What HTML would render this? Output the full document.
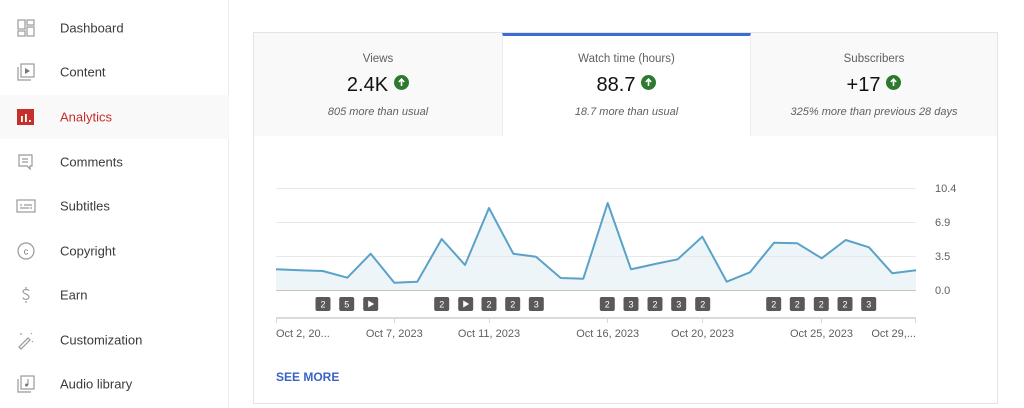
<!DOCTYPE html>
<html><head><meta charset="utf-8"><style>
*{margin:0;padding:0;box-sizing:border-box}
html,body{width:1024px;height:408px;overflow:hidden;background:#fff;font-family:"Liberation Sans",sans-serif}
.sb{position:absolute;left:0;top:0;width:229px;height:408px;border-right:1px solid #ebebeb;background:#fff}
.item{position:absolute;left:0;width:229px;height:44px;}
.item .t{position:absolute;left:60px;top:50%;transform:translateY(-50%);font-size:13px;color:#3a3a3a;white-space:nowrap}
.item svg{position:absolute;left:16px;top:50%;transform:translateY(-50%)}
.act{background:#f9f9f9}
.act .t{color:#c4302b}
.card{position:absolute;left:253px;top:32px;width:745px;height:372px;border:1px solid #e4e4e4;background:#fff}
.tab{position:absolute;top:0;height:103px;background:#f9f9f9;text-align:center;color:#606060}
.tab.on{background:#fff;border-top:3px solid #3b6ed2}
.tab .h{position:absolute;left:0;right:0;top:20px;font-size:11.5px}
.tab .v{position:absolute;left:0;right:0;top:41px;font-size:20px;color:#111}
.tab .v i{display:inline-block;width:15px;height:15px;border-radius:50%;background:#2d7a2f;vertical-align:1px;margin-left:6px;position:relative}
.tab .s{position:absolute;left:0;right:0;top:73px;font-size:11px;font-style:italic}
.see{position:absolute;left:276px;top:370px;font-size:12px;font-weight:bold;color:#3a63c6}
</style></head><body>
<div class="sb">
 <div class="item" style="top:6px"><svg width="20" height="20" viewBox="0 0 20 20" fill="none" stroke="#999" stroke-width="1.2"><rect x="2" y="2" width="7" height="9"/><rect x="11" y="2" width="7" height="5"/><rect x="2" y="13" width="7" height="5"/><rect x="11" y="9" width="7" height="9"/></svg><span class="t">Dashboard</span></div>
 <div class="item" style="top:50px"><svg width="20" height="20" viewBox="0 0 20 20" fill="none" stroke="#999" stroke-width="1.2"><rect x="5" y="2" width="13" height="13"/><path d="M2 5v13h13"/><path d="M9 6l5 3-5 3z" fill="#777" stroke="none"/></svg><span class="t">Content</span></div>
 <div class="item act" style="top:95px"><svg width="20" height="20" viewBox="0 0 20 20"><rect x="1" y="2" width="17" height="16" fill="#c4302b"/><rect x="5" y="9" width="1.8" height="6" fill="#fff"/><rect x="9" y="7" width="1.8" height="8" fill="#fff"/><rect x="13" y="13" width="1.8" height="2" fill="#fff"/></svg><span class="t">Analytics</span></div>
 <div class="item" style="top:140px"><svg width="20" height="20" viewBox="0 0 20 20" fill="none" stroke="#999" stroke-width="1.2"><path d="M3 3h13v11h-2v3l-3-3H3z"/><path d="M6 7h6M6 10h6"/></svg><span class="t">Comments</span></div>
 <div class="item" style="top:184px"><svg width="20" height="20" viewBox="0 0 20 20" fill="none" stroke="#999" stroke-width="1.2"><rect x="1" y="4" width="18" height="12"/><path d="M4 9h2M8 9h8M4 12h9M14 12h2"/></svg><span class="t">Subtitles</span></div>
 <div class="item" style="top:229px"><svg width="20" height="20" viewBox="0 0 20 20" fill="none" stroke="#999" stroke-width="1.2"><circle cx="10" cy="10" r="8"/><text x="10" y="13.5" font-size="9" text-anchor="middle" fill="#777" stroke="none" font-family="Liberation Sans">c</text></svg><span class="t">Copyright</span></div>
 <div class="item" style="top:273px"><svg width="20" height="20" viewBox="0 0 20 20" fill="none" stroke="#999" stroke-width="1.2"><path d="M13 6c0-2-6-2-6 0.5S13 9 13 12s-6 3-6 0.5M10 2v2M10 16v2"/></svg><span class="t">Earn</span></div>
 <div class="item" style="top:318px"><svg width="20" height="20" viewBox="0 0 20 20" fill="none" stroke="#999" stroke-width="1.2"><path d="M3 17l9-9 2 2-9 9z"/><path d="M5 3v2M15 3l1 1M17 12l-1-1M9 3l0 0"/></svg><span class="t">Customization</span></div>
 <div class="item" style="top:362px"><svg width="20" height="20" viewBox="0 0 20 20" fill="none" stroke="#999" stroke-width="1.2"><rect x="5" y="2" width="13" height="13"/><path d="M2 5v13h13"/><path d="M12 5v6" /><circle cx="10.5" cy="11" r="1.5" fill="#777" stroke="none"/></svg><span class="t">Audio library</span></div>
</div>

<div class="card">
 <div class="tab" style="left:0;width:248px"><div class="h">Views</div><div class="v">2.4K<i><svg width="15" height="15" viewBox="0 0 15 15" style="position:absolute;left:0;top:0"><path d="M7.5 11V4.5M4.8 7l2.7-2.8L10.2 7" stroke="#fff" stroke-width="1.6" fill="none"/></svg></i></div><div class="s">805 more than usual</div></div>
 <div class="tab on" style="left:248px;width:249px;border-left:1px solid #ececec;border-right:1px solid #ececec"><div class="h" style="top:17px">Watch time (hours)</div><div class="v" style="top:38px">88.7<i><svg width="15" height="15" viewBox="0 0 15 15" style="position:absolute;left:0;top:0"><path d="M7.5 11V4.5M4.8 7l2.7-2.8L10.2 7" stroke="#fff" stroke-width="1.6" fill="none"/></svg></i></div><div class="s" style="top:70px">18.7 more than usual</div></div>
 <div class="tab" style="left:497px;width:246px"><div class="h">Subscribers</div><div class="v">+17<i><svg width="15" height="15" viewBox="0 0 15 15" style="position:absolute;left:0;top:0"><path d="M7.5 11V4.5M4.8 7l2.7-2.8L10.2 7" stroke="#fff" stroke-width="1.6" fill="none"/></svg></i></div><div class="s">325% more than previous 28 days</div></div>
</div>

<svg width="1024" height="408" style="position:absolute;left:0;top:0" font-family="Liberation Sans, sans-serif">
 <polygon fill="#eef5f9" points="276,290 276,269.3 299.7,270.2 322.7,271 347.3,277.7 370.7,253.7 394.3,282.7 417.3,281.7 441.7,239 465,265 489,208 513.3,253.7 536,256.7 560.7,278 583.3,278.7 607.7,203 631,269.3 655,264 677.7,259.3 702.3,236.7 726.7,281.7 750,272.3 774,242.7 797.3,243.3 821.7,258.3 845.7,240 869,247.3 892.3,273.3 916,270.3 916,290"/>
 <g stroke="#e8e8e8" stroke-width="1">
  <line x1="276" y1="188.5" x2="916" y2="188.5"/>
  <line x1="276" y1="222.5" x2="916" y2="222.5"/>
  <line x1="276" y1="256.5" x2="916" y2="256.5"/>
 </g>
 <line x1="276" y1="290.5" x2="916" y2="290.5" stroke="#c4c4c4" stroke-width="1"/>
 <polyline fill="none" stroke="#5aa2c8" stroke-width="2" stroke-linejoin="round" points="276,269.3 299.7,270.2 322.7,271 347.3,277.7 370.7,253.7 394.3,282.7 417.3,281.7 441.7,239 465,265 489,208 513.3,253.7 536,256.7 560.7,278 583.3,278.7 607.7,203 631,269.3 655,264 677.7,259.3 702.3,236.7 726.7,281.7 750,272.3 774,242.7 797.3,243.3 821.7,258.3 845.7,240 869,247.3 892.3,273.3 916,270.3"/>
 <g font-size="11" fill="#606060">
  <text x="935" y="192">10.4</text>
  <text x="935" y="226">6.9</text>
  <text x="935" y="260">3.5</text>
  <text x="935" y="294">0.0</text>
 </g>
 <g fill="#595959">
  <rect x="315.5" y="297" width="15" height="14" rx="2"/>
  <rect x="339.2" y="297" width="15" height="14" rx="2"/>
  <rect x="363.2" y="297" width="15" height="14" rx="2"/>
  <rect x="434.2" y="297" width="15" height="14" rx="2"/>
  <rect x="458.2" y="297" width="15" height="14" rx="2"/>
  <rect x="481.5" y="297" width="15" height="14" rx="2"/>
  <rect x="505.2" y="297" width="15" height="14" rx="2"/>
  <rect x="528.8" y="297" width="15" height="14" rx="2"/>
  <rect x="599.8" y="297" width="15" height="14" rx="2"/>
  <rect x="623.5" y="297" width="15" height="14" rx="2"/>
  <rect x="647.5" y="297" width="15" height="14" rx="2"/>
  <rect x="671.2" y="297" width="15" height="14" rx="2"/>
  <rect x="695.2" y="297" width="15" height="14" rx="2"/>
  <rect x="766.2" y="297" width="15" height="14" rx="2"/>
  <rect x="789.8" y="297" width="15" height="14" rx="2"/>
  <rect x="813.8" y="297" width="15" height="14" rx="2"/>
  <rect x="837.5" y="297" width="15" height="14" rx="2"/>
  <rect x="861.2" y="297" width="15" height="14" rx="2"/>
 </g>
 <g fill="#fff">
  <path d="M368.2 300.5l6 3.5-6 3.5z"/>
  <path d="M463.2 300.5l6 3.5-6 3.5z"/>
 </g>
 <g font-size="9" fill="#fff" text-anchor="middle">
  <text x="323" y="307.5">2</text>
  <text x="346.7" y="307.5">5</text>
  <text x="441.7" y="307.5">2</text>
  <text x="489" y="307.5">2</text>
  <text x="512.7" y="307.5">2</text>
  <text x="536.3" y="307.5">3</text>
  <text x="607.3" y="307.5">2</text>
  <text x="631" y="307.5">3</text>
  <text x="655" y="307.5">2</text>
  <text x="678.7" y="307.5">3</text>
  <text x="702.7" y="307.5">2</text>
  <text x="773.7" y="307.5">2</text>
  <text x="797.3" y="307.5">2</text>
  <text x="821.3" y="307.5">2</text>
  <text x="845" y="307.5">2</text>
  <text x="868.7" y="307.5">3</text>
 </g>
 <line x1="276" y1="318" x2="916" y2="318" stroke="#cfcfcf" stroke-width="1.5"/>
 <g stroke="#d8d8d8" stroke-width="1">
  <line x1="276.5" y1="318" x2="276.5" y2="323"/>
  <line x1="394.5" y1="318" x2="394.5" y2="323"/>
  <line x1="489.5" y1="318" x2="489.5" y2="323"/>
  <line x1="607.5" y1="318" x2="607.5" y2="323"/>
  <line x1="702.5" y1="318" x2="702.5" y2="323"/>
  <line x1="821.5" y1="318" x2="821.5" y2="323"/>
  <line x1="915.5" y1="318" x2="915.5" y2="323"/>
 </g>
 <g font-size="11" fill="#606060">
  <text x="276" y="337">Oct 2, 20...</text>
  <text x="394.3" y="337" text-anchor="middle">Oct 7, 2023</text>
  <text x="489" y="337" text-anchor="middle">Oct 11, 2023</text>
  <text x="607.7" y="337" text-anchor="middle">Oct 16, 2023</text>
  <text x="702.5" y="337" text-anchor="middle">Oct 20, 2023</text>
  <text x="821.5" y="337" text-anchor="middle">Oct 25, 2023</text>
  <text x="916" y="337" text-anchor="end">Oct 29,...</text>
 </g>
</svg>
<div class="see">SEE MORE</div>
</body></html>
